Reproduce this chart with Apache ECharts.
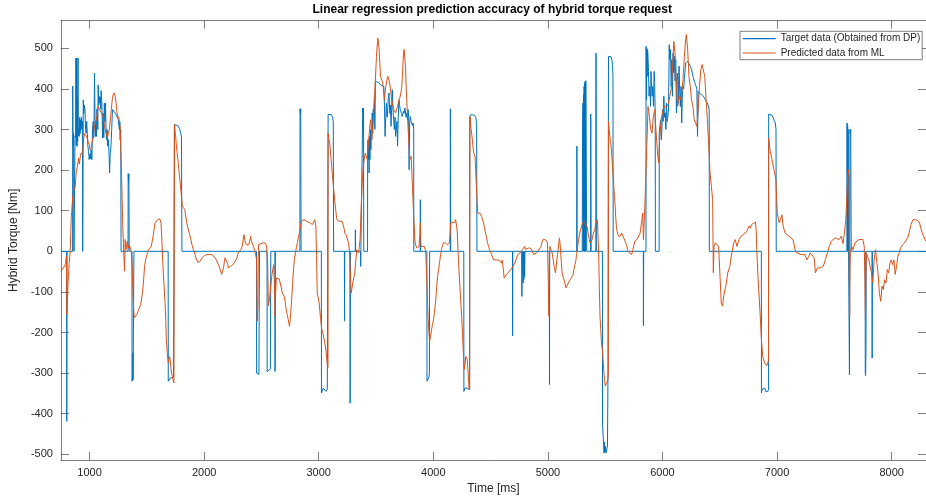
<!DOCTYPE html>
<html>
<head>
<meta charset="utf-8">
<script src="https://cdn.jsdelivr.net/npm/echarts@6/dist/echarts.min.js"></script>
<style>
  html, body { margin: 0; padding: 0; background: #fff; }
  #chart { width: 926px; height: 500px; }
</style>
</head>
<body>
<div id="chart"></div>
<script>
// tick positions
const xTicks = [1000, 2000, 3000, 4000, 5000, 6000, 7000, 8000];
const yTicks = [-500, -400, -300, -200, -100, 0, 100, 200, 300, 400, 500];

// target torque from DP, [time ms, torque Nm], split by stretch of the drive
const targetA = [[750,0],[800,0],[801,-419],[803,0],[852,0],[853,407],[856,260],[860,290],[864,0],[872,0],[873,285],[878,280],[881,476],[884,262],[887,476],[890,258],[893,380],[896,270],[899,476],[902,285],[906,300],[910,283],[914,330],[918,290],[922,324],[926,300],[930,330],[935,300],[939,320],[940,0],[943,0],[945,373],[950,340],[955,360],[960,349],[965,300],[970,291],[975,320],[980,291],[985,260],[991,246],[997,226],[1003,240],[1008,228],[1014,250],[1020,226],[1026,300],[1032,320],[1036,280],[1040,330],[1043,439],[1047,340],[1051,283],[1055,320],[1060,283],[1064,350],[1068,330],[1072,300],[1075,410],[1080,360],[1084,382],[1089,365],[1094,380],[1098,350],[1101,396],[1106,373],[1110,330],[1114,279],[1119,340],[1124,280],[1129,365],[1134,320],[1139,365],[1144,300],[1148,275],[1153,300],[1158,259],[1164,275],[1170,240],[1175,193],[1180,240],[1187,259],[1193,300],[1200,349],[1210,345],[1220,342],[1230,338],[1240,332],[1250,325],[1256,324],[1260,300],[1264,320],[1267,275],[1272,300],[1275,0],[1336,0],[1337,191],[1340,170],[1343,191],[1346,0],[1370,0],[1371,-320],[1376,-300],[1377,-250],[1380,-316],[1385,-316],[1387,0],[1686,0],[1687,-320],[1695,-318],[1705,-312],[1720,-308],[1733,-310],[1739,-312],[1740,312],[1755,312],[1770,310],[1785,302],[1795,292],[1802,282],[1806,0],[2457,0]];
const targetB = [[2458,-300],[2466,-303],[2470,-300],[2478,-303],[2482,-300],[2483,0],[2549,0],[2550,-296],[2565,-295],[2578,-290],[2581,-288],[2582,0],[2618,0],[2619,-296],[2621,0],[2836,0],[2837,351],[2840,340],[2843,351],[2846,0],[3023,0],[3024,-349],[3032,-345],[3040,-337],[3048,-335],[3056,-337],[3064,-345],[3075,-340],[3081,-340],[3082,337],[3095,340],[3110,337],[3122,330],[3127,320],[3130,0],[3224,0],[3225,-172],[3227,0],[3273,0],[3274,-374],[3276,0],[3319,0],[3320,53],[3322,0],[3365,0],[3366,-37],[3368,0],[3383,0],[3384,353],[3388,340],[3391,353],[3393,0],[3426,0],[3427,242],[3430,275],[3433,226],[3436,259],[3440,193],[3443,283],[3447,226],[3451,300],[3455,250],[3459,283],[3463,300],[3467,341],[3471,290],[3476,350],[3481,330],[3486,380],[3490,300],[3495,419],[3510,419],[3525,415],[3540,410],[3555,408],[3568,406],[3572,380],[3579,283],[3585,330],[3591,365],[3597,330],[3602,349],[3608,380],[3614,390],[3620,340],[3626,360],[3631,308],[3636,350],[3642,398],[3648,350],[3654,324],[3660,300],[3666,330],[3671,283],[3677,300],[3683,320],[3688,259],[3694,330],[3700,373],[3706,360],[3711,349],[3717,349],[3723,340],[3728,332],[3734,332],[3740,345],[3746,340],[3752,353],[3757,353],[3763,330],[3768,340],[3775,324],[3780,349],[3785,330],[3789,201],[3793,316],[3799,332],[3806,320],[3812,316],[3818,310],[3824,316],[3829,300],[3830,0]];
const targetC = [[3886,0],[3887,127],[3889,0],[3944,0],[3945,-320],[3950,-318],[3956,-316],[3962,-310],[3966,-300],[3968,0],[4148,0],[4149,351],[4152,0],[4266,0],[4267,-345],[4275,-337],[4285,-335],[4295,-337],[4305,-340],[4317,-340],[4318,332],[4330,337],[4345,337],[4360,335],[4370,330],[4378,315],[4381,0],[4691,0],[4692,-208],[4694,0],[4772,0],[4773,-111],[4776,0],[4783,0],[4784,-78],[4788,0],[4790,-70],[4794,0],[4797,-62],[4800,0],[5013,0],[5014,-328],[5016,0],[5252,0],[5253,259],[5255,0],[5300,0],[5302,300],[5306,365],[5309,0],[5311,386],[5314,0],[5316,406],[5319,0],[5321,415],[5324,0],[5326,419],[5329,0],[5331,420],[5336,420],[5339,0],[5373,0],[5374,338],[5377,0],[5419,0],[5420,488],[5423,0]];
const targetD = [[5476,0],[5477,-427],[5484,-430],[5486,-472],[5490,-497],[5494,-470],[5498,-493],[5502,-480],[5507,-497],[5513,-497],[5520,-480],[5524,-324],[5528,-320],[5529,480],[5540,483],[5550,480],[5558,472],[5564,460],[5568,430],[5570,0],[5833,0],[5834,-183],[5836,0],[5856,0],[5857,505],[5860,373],[5863,500],[5867,431],[5870,497],[5874,480],[5878,443],[5883,382],[5890,406],[5896,357],[5900,443],[5904,415],[5910,382],[5916,406],[5922,357],[5927,443],[5932,415],[5937,330],[5938,0],[5971,0],[5972,291],[5978,310],[5984,324],[5990,275],[5995,300],[6001,349],[6006,320],[6012,382],[6018,330],[6024,341],[6030,300],[6035,365],[6041,320],[6047,332],[6053,350],[6059,509],[6064,472],[6070,497],[6076,406],[6082,472],[6087,382],[6093,488],[6099,440],[6105,480],[6110,420],[6116,472],[6122,341],[6127,420],[6133,439],[6139,365],[6145,456],[6150,400],[6156,357],[6162,406],[6168,316],[6173,380],[6179,406],[6185,400],[6191,423],[6196,440],[6202,464],[6211,466],[6220,468],[6228,466],[6237,464],[6245,455],[6254,447],[6260,440],[6266,431],[6275,422],[6283,415],[6289,410],[6294,406],[6300,400],[6306,283],[6312,394],[6318,392],[6323,390],[6330,388],[6340,386],[6350,384],[6358,382],[6366,378],[6375,373],[6383,369],[6392,365],[6398,360],[6404,357],[6408,350],[6409,0],[6863,0],[6864,-349],[6870,-340],[6878,-337],[6886,-337],[6893,-337],[6900,-345],[6920,-345],[6926,-340],[6927,338],[6940,340],[6955,335],[6965,330],[6975,322],[6985,316],[6991,300],[6993,0],[7610,0],[7611,316],[7614,0],[7616,310],[7619,0],[7621,300],[7624,0],[7631,0],[7632,-304],[7634,0],[7637,300],[7640,290],[7643,300],[7647,0],[7769,0],[7770,-300],[7773,-306],[7776,-240],[7778,0],[7829,0],[7830,-263],[7832,0],[8300,0]];

// predicted torque from the regression model, [time ms, torque Nm]
const predA = [[750,-49],[773,-41],[790,-30],[798,-12],[802,-156],[812,-80],[822,-30],[830,-4],[840,80],[853,135],[863,150],[873,156],[884,195],[894,209],[905,230],[911,215],[917,218],[922,240],[928,242],[934,236],[940,242],[945,265],[951,283],[957,290],[963,293],[970,285],[980,279],[988,270],[997,263],[1005,250],[1014,255],[1022,268],[1032,279],[1043,308],[1050,318],[1060,324],[1068,345],[1078,357],[1085,350],[1095,349],[1105,340],[1118,332],[1130,310],[1140,295],[1147,291],[1155,280],[1164,279],[1172,300],[1181,324],[1190,350],[1198,373],[1205,385],[1213,390],[1220,385],[1227,378],[1233,360],[1239,341],[1247,333],[1256,328],[1262,315],[1267,308],[1273,250],[1279,193],[1284,130],[1290,62],[1298,0],[1305,-49],[1311,29],[1316,10],[1319,4],[1325,20],[1331,25],[1337,8],[1342,4],[1348,15],[1354,12],[1360,5],[1365,-4],[1372,-40],[1377,-86],[1384,-140],[1391,-164],[1398,-165],[1406,-160],[1414,-155],[1423,-148],[1434,-140],[1446,-131],[1455,-115],[1463,-99],[1472,-70],[1480,-37],[1490,-20],[1498,-12],[1507,-2],[1515,4],[1528,8],[1538,12],[1547,25],[1555,37],[1563,55],[1572,70],[1583,72],[1595,78],[1605,80],[1613,80],[1624,70],[1632,20],[1641,-37],[1650,-85],[1659,-127],[1665,-170],[1670,-218],[1678,-250],[1687,-275],[1693,-265],[1699,-259],[1705,-270],[1710,-287],[1716,-300],[1722,-308],[1730,-318],[1736,-324],[1740,-320],[1742,312],[1749,290],[1756,267],[1765,240],[1774,218],[1782,195],[1791,168],[1800,140],[1808,115],[1818,108],[1831,103],[1840,85],[1848,70],[1860,55],[1871,45],[1883,30],[1894,16],[1905,5],[1917,-4],[1926,-14],[1935,-21],[1944,-27],[1952,-29],[1963,-25],[1975,-21],[1985,-15],[1992,-12],[2005,-10],[2024,-8],[2045,-8],[2067,-8],[2080,-10],[2096,-16],[2108,-22],[2119,-29],[2128,-35],[2136,-41],[2145,-50],[2153,-57],[2162,-48],[2171,-37],[2177,-25],[2182,-16],[2190,-18],[2199,-20],[2205,-30],[2211,-41],[2220,-38],[2228,-37],[2240,-35],[2251,-33],[2262,-29],[2274,-25],[2285,-18]];
const predB = [[2297,-4],[2310,0],[2320,4],[2330,10],[2337,12],[2348,41],[2354,30],[2360,21],[2366,20],[2371,16],[2380,18],[2389,16],[2398,25],[2406,37],[2412,25],[2417,25],[2423,18],[2429,12],[2435,8],[2440,4],[2452,4],[2458,-20],[2463,-172],[2466,-150],[2469,-144],[2472,-20],[2475,16],[2483,18],[2492,19],[2505,20],[2515,21],[2528,21],[2538,21],[2545,15],[2550,12],[2555,-40],[2561,-135],[2567,-125],[2573,-111],[2581,-85],[2590,-62],[2599,-45],[2607,-33],[2613,-80],[2619,-160],[2624,-100],[2630,-66],[2640,-66],[2647,-66],[2656,-68],[2665,-70],[2673,-90],[2682,-103],[2690,-106],[2699,-111],[2708,-125],[2716,-144],[2725,-156],[2734,-168],[2740,-178],[2745,-185],[2752,-165],[2762,-127],[2771,-85],[2780,-45],[2788,-20],[2797,-4],[2805,10],[2814,21],[2822,33],[2831,45],[2840,60],[2849,74],[2860,78],[2872,78],[2885,76],[2895,74],[2910,72],[2923,70],[2935,68],[2946,66],[2955,70],[2964,78],[2970,72],[2975,62],[2981,-10],[2987,-103],[2996,-115],[3004,-127],[3016,-165],[3027,-193],[3036,-200],[3044,-213],[3053,-225],[3062,-242],[3070,-265],[3079,-287],[3081,-280],[3082,291],[3089,275],[3096,267],[3104,240],[3113,209],[3122,180],[3131,152],[3140,125],[3148,103],[3154,88],[3159,78],[3168,76],[3177,74],[3186,76],[3194,78],[3203,74],[3211,70],[3220,58],[3228,45],[3240,40],[3251,37],[3260,20],[3269,0],[3276,-50],[3283,-103],[3290,-92],[3297,-78],[3306,-65],[3315,-53],[3323,-25],[3332,4],[3340,2],[3349,-4],[3355,15],[3361,29],[3366,70],[3372,119],[3380,170],[3389,209],[3398,228],[3407,242],[3415,235],[3424,226],[3432,260],[3441,291],[3447,310],[3453,324],[3459,300],[3464,275],[3472,310],[3481,341],[3487,380],[3493,415],[3499,450],[3504,480],[3510,505],[3516,525],[3521,515],[3527,497],[3533,465],[3539,431],[3545,431],[3550,431],[3556,418],[3562,406],[3568,390],[3573,373],[3579,390],[3585,406],[3594,420],[3602,431],[3610,425],[3619,415],[3628,395],[3637,373],[3645,360],[3654,349],[3663,345],[3671,341],[3680,350],[3688,357],[3694,365],[3700,373],[3708,378],[3717,382],[3723,400],[3729,423],[3735,460],[3740,488],[3746,497],[3752,497],[3758,450],[3763,406],[3769,370],[3775,332],[3786,270],[3795,226],[3803,226],[3807,234]];
const predC = [[3812,200],[3818,160],[3824,120],[3830,78],[3836,45],[3841,21],[3847,15],[3853,12],[3858,8],[3864,4],[3870,8],[3876,12],[3882,40],[3887,70],[3890,30],[3893,12],[3904,12],[3922,12],[3928,5],[3933,0],[3939,-40],[3945,-86],[3950,-130],[3956,-168],[3962,-200],[3968,-222],[3976,-210],[3985,-193],[3993,-180],[4002,-168],[4010,-150],[4019,-127],[4028,-95],[4037,-62],[4046,-45],[4054,-29],[4062,-12],[4071,4],[4080,14],[4088,21],[4106,21],[4114,18],[4123,16],[4140,21],[4146,40],[4152,70],[4160,71],[4186,71],[4195,78],[4203,82],[4209,50],[4215,4],[4223,-40],[4232,-86],[4240,-127],[4249,-168],[4255,-205],[4261,-242],[4266,-270],[4272,-291],[4278,-275],[4284,-259],[4290,-262],[4295,-265],[4302,-290],[4308,-320],[4313,-341],[4317,-335],[4320,332],[4330,300],[4341,275],[4347,255],[4353,242],[4358,240],[4364,234],[4370,200],[4376,160],[4382,125],[4387,94],[4405,94],[4413,90],[4422,86],[4430,78],[4439,70],[4447,58],[4456,45],[4465,33],[4474,21],[4482,12],[4491,4],[4500,-2],[4508,-8],[4517,-14],[4526,-21],[4549,-21],[4558,-24],[4566,-25],[4575,-22],[4583,-21],[4590,-25],[4595,-29],[4600,-22],[4606,-21],[4612,-45],[4618,-66],[4627,-62],[4635,-58],[4644,-56],[4652,-53],[4669,-49],[4687,-41],[4704,-37],[4712,-29],[4721,-21],[4730,-14],[4738,-8],[4756,-4],[4768,0],[4779,4],[4788,8],[4796,12],[4805,5],[4813,4],[4830,8],[4840,10],[4848,8],[4856,4],[4865,0],[4874,-8],[4882,-12],[4888,-8],[4902,-4],[4911,-4],[4916,0],[4922,4],[4931,8],[4940,12],[4946,20],[4951,25],[4960,30],[4968,31],[4980,28],[4997,21],[5003,20],[5009,-160],[5012,-40],[5017,12],[5027,4],[5037,-4],[5046,-20],[5055,-37],[5066,-53],[5072,-40],[5078,-21],[5084,-8],[5089,4],[5095,18],[5101,33],[5106,20],[5112,-4],[5118,-30],[5124,-53],[5132,-62],[5141,-70],[5150,-80],[5158,-90],[5166,-85],[5175,-82],[5184,-75],[5193,-70],[5210,-74],[5218,-60],[5227,-45],[5236,-33],[5245,-21],[5250,-8],[5256,4],[5264,20],[5273,37],[5282,50]];
const predD = [[5299,66],[5317,74],[5334,74],[5342,60],[5351,45],[5360,30],[5368,21],[5377,25],[5386,29],[5397,45],[5409,53],[5420,70],[5432,78],[5437,40],[5443,0],[5449,-90],[5455,-160],[5466,-218],[5478,-250],[5484,-275],[5489,-300],[5495,-318],[5501,-332],[5512,-324],[5524,-316],[5528,-300],[5529,320],[5535,300],[5541,283],[5547,270],[5552,259],[5558,235],[5564,209],[5570,185],[5575,160],[5581,135],[5587,111],[5592,85],[5598,62],[5605,48],[5616,37],[5627,33],[5635,38],[5644,45],[5652,40],[5662,33],[5670,28],[5679,25],[5688,14],[5696,4],[5705,-2],[5713,-4],[5731,-8],[5737,-4],[5742,4],[5750,14],[5759,25],[5777,29],[5794,33],[5805,45],[5817,70],[5828,94],[5834,29],[5840,70],[5846,111],[5851,150],[5857,201],[5863,260],[5869,308],[5874,357],[5886,332],[5897,300],[5909,291],[5920,332],[5932,349],[5943,300],[5955,250],[5966,218],[5978,291],[5989,324],[6001,324],[6012,357],[6024,361],[6035,355],[6053,365],[6064,382],[6076,398],[6087,447],[6099,517],[6110,488],[6122,406],[6133,357],[6145,382],[6156,373],[6168,390],[6179,423],[6191,480],[6202,521],[6208,534],[6220,497],[6231,431],[6243,406],[6254,373],[6266,357],[6277,324],[6289,316],[6300,308],[6312,349],[6323,406],[6335,447],[6346,460],[6358,460],[6369,431],[6381,373],[6392,324],[6404,259],[6415,193],[6427,160],[6438,127],[6441,40],[6444,-53],[6450,12],[6461,21],[6478,22],[6490,12],[6501,-53],[6513,-127],[6524,-135],[6536,-107],[6553,-86],[6570,-53],[6588,-37],[6605,-4],[6622,21],[6634,29],[6651,12],[6668,29],[6685,37],[6703,41],[6720,45],[6737,49],[6754,62],[6766,57],[6778,66],[6795,70],[6812,72],[6818,50],[6823,4],[6835,-70],[6852,-152],[6864,-218],[6875,-259],[6892,-275],[6910,-282],[6921,-280],[6925,-270],[6927,279],[6938,250],[6956,226],[6973,201],[6990,177],[7002,94],[7019,70],[7030,78],[7042,90],[7053,62],[7071,45],[7088,41],[7105,37],[7122,33],[7140,29],[7157,4],[7174,-4],[7191,-4],[7209,-8],[7226,-4],[7243,-8],[7260,-21],[7278,-12],[7289,-4],[7306,0],[7324,-16],[7335,-53],[7352,-41],[7375,-41],[7404,-37],[7421,-21],[7439,-4],[7456,12],[7473,25],[7490,29],[7508,33],[7525,37],[7542,29],[7560,37],[7576,19],[7588,45],[7600,78],[7611,144],[7617,185],[7623,201],[7628,185],[7631,-40],[7634,-160],[7637,-40],[7640,-4],[7652,12],[7663,4],[7680,21],[7697,25],[7715,29],[7732,33],[7749,29],[7761,12],[7767,-70],[7772,-181],[7775,-60],[7778,-4],[7790,-4],[7801,-21],[7812,-37],[7824,-53],[7836,-78],[7847,-21],[7859,4],[7870,8],[7881,-53],[7893,-103],[7905,-123],[7916,-86],[7927,-94],[7939,-70],[7951,-78],[7962,-45],[7974,-53],[7985,-29],[7997,-21],[8008,-33],[8020,-21],[8031,-57],[8043,-37],[8054,-12],[8066,-4],[8077,8],[8094,16],[8112,21],[8129,25],[8140,33],[8152,45],[8169,66],[8186,78],[8209,78],[8227,76],[8244,70],[8255,57],[8267,45],[8290,30],[8300,25]];

const targetData = [].concat(targetA, targetB, targetC, targetD);
const predData = [].concat(predA, predB, predC, predD);

const font = 'Liberation Sans, Arial, Helvetica, sans-serif';
const axisColor = '#262626';

const chart = echarts.init(document.getElementById('chart'), null, {renderer: 'canvas'});

// box axes like matlab: ticks inside on all four sides
function boxAxis(pos, ticks, isX, withLabels) {
    return {
        type: 'value',
        position: pos,
        min: isX ? 750 : -514,
        max: isX ? 8300 : 568,
        axisLine: {show: true, onZero: false, lineStyle: {color: axisColor, width: 0.6}},
        axisTick: {show: true, inside: true, length: 8, customValues: ticks, lineStyle: {color: axisColor, width: 0.6}},
        axisLabel: {
            show: withLabels,
            customValues: ticks,
            formatter: v => String(v),
            color: axisColor,
            fontSize: 11,
            fontFamily: font,
            margin: isX ? 7 : 8
        },
        splitLine: {show: false}
    };
}

const xBottom = boxAxis('bottom', xTicks, true, true);
xBottom.name = 'Time [ms]';
xBottom.nameLocation = 'middle';
xBottom.nameGap = 23;
xBottom.nameTextStyle = {color: axisColor, fontSize: 12, fontFamily: font};

const yLeft = boxAxis('left', yTicks, false, true);
yLeft.name = 'Hybrid Torque [Nm]';
yLeft.nameLocation = 'middle';
yLeft.nameGap = 22;
yLeft.nameTextStyle = {color: axisColor, fontSize: 12, fontFamily: font};

const option = {
    animation: false,
    backgroundColor: '#ffffff',
    title: {
        text: 'Linear regression prediction accuracy of hybrid torque request',
        left: 492.2,
        top: 4,
        textAlign: 'center',
        padding: 0,
        textStyle: {color: '#000', fontSize: 12, fontWeight: 'bold', fontFamily: font}
    },
    legend: {
        orient: 'vertical',
        left: 740,
        top: 31.3,
        padding: [1.4, 2, 0.7, 2.7],
        itemGap: 2.3,
        itemWidth: 33,
        itemHeight: 1.2,
        icon: 'rect',
        selectedMode: false,
        backgroundColor: '#ffffff',
        borderColor: axisColor,
        borderWidth: 0.6,
        textStyle: {color: axisColor, fontSize: 10, lineHeight: 12, fontFamily: font},
        data: ['Target data (Obtained from DP)', 'Predicted data from ML']
    },
    grid: {left: 54.7, top: 20.7, width: 875, height: 439.6},
    xAxis: [xBottom, boxAxis('top', xTicks, true, false)],
    yAxis: [yLeft, boxAxis('right', yTicks, false, false)],
    series: [
        {
            name: 'Target data (Obtained from DP)',
            type: 'line',
            data: targetData,
            symbol: 'none',
            showSymbol: false,
            lineStyle: {color: '#0072BD', width: 1},
            itemStyle: {color: '#0072BD'},
            z: 2
        },
        {
            name: 'Predicted data from ML',
            type: 'line',
            data: predData,
            symbol: 'none',
            showSymbol: false,
            lineStyle: {color: '#D95319', width: 1},
            itemStyle: {color: '#D95319'},
            z: 3
        }
    ]
};

chart.setOption(option);
</script>
</body>
</html>
